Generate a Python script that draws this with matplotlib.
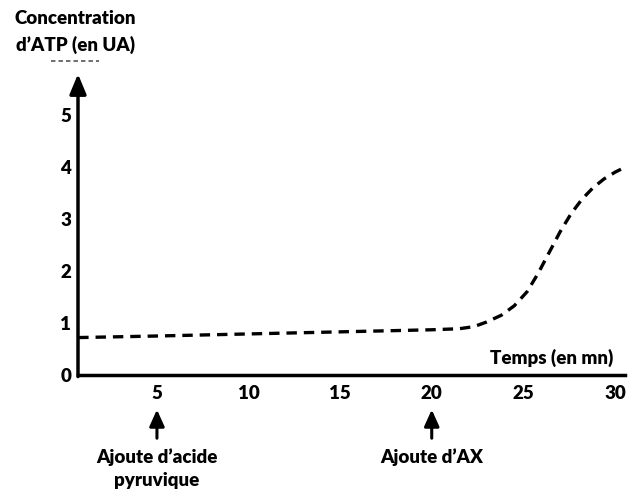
import matplotlib
matplotlib.use("Agg")
import matplotlib.pyplot as plt
from matplotlib.lines import Line2D

plt.rcParams['font.family'] = ['Lato', 'DejaVu Sans']
plt.rcParams['lines.scale_dashes'] = False

# Data
time_mn = [0.7, 5, 10, 15, 20, 21.5, 22.3, 23.0, 23.8, 24.5, 25.2, 25.8, 26.4,
           27.0, 27.6, 28.2, 28.8, 29.4, 30.0, 30.4]
atp_ua = [0.72, 0.75, 0.79, 0.83, 0.87, 0.89, 0.93, 1.02, 1.15, 1.33, 1.6, 1.95,
          2.35, 2.75, 3.1, 3.38, 3.6, 3.77, 3.9, 3.97]
x_ticks = [5, 10, 15, 20, 25, 30]
y_ticks = [0, 1, 2, 3, 4, 5]

W, H = 636, 494
fig = plt.figure(figsize=(W / 100, H / 100), dpi=100)
left, right, top, bottom = 78, 625, 74, 375
ax = fig.add_axes([left / W, 1 - bottom / H, (right - left) / W, (bottom - top) / H])

ax.plot(time_mn, atp_ua, color='black', lw=2.4, dashes=(7.5, 5), solid_capstyle='butt',
        dash_capstyle='butt')

ax.set_xlim(0.69, 30.55)
ax.set_ylim(0, 5.79)

for s in ['top', 'right', 'left']:
    ax.spines[s].set_visible(False)
ax.spines['bottom'].set_linewidth(2.5)

# y axis with arrow
ax.annotate('', xy=(0, 1.0), xycoords='axes fraction', xytext=(0, -0.005),
            textcoords='axes fraction',
            arrowprops=dict(arrowstyle='-|>,head_length=1.2,head_width=0.5',
                            color='black', lw=2.5, shrinkA=0, shrinkB=0),
            annotation_clip=False)

bold = dict(fontweight='heavy', fontsize=13.5)
ax.set_xticks(x_ticks)
ax.set_xticklabels([str(v) for v in x_ticks], **bold)
ax.set_yticks(y_ticks)
ax.set_yticklabels([str(v) for v in y_ticks], **bold)
ax.tick_params(axis='both', length=0)
ax.tick_params(axis='x', pad=7)
ax.tick_params(axis='y', pad=5)

ax.text(1.0 - 12 / (right - left), 0.025, 'Temps (en mn)', transform=ax.transAxes,
        ha='right', va='bottom', **bold)

fig.text(75 / W, 1 - 18 / H, 'Concentration', ha='center', va='center', **bold)
fig.text(75 / W, 1 - 45 / H, 'd\u2019ATP (en UA)', ha='center', va='center', **bold)
fig.add_artist(Line2D([51 / W, 99 / W], [1 - 61 / H, 1 - 61 / H], color='#555555',
                      lw=1.2, dashes=(3.2, 2.2)))

# Event arrows below axis
events = [(5, 'Ajoute d\u2019acide\npyruvique'), (20, 'Ajoute d\u2019AX')]
trans = ax.get_xaxis_transform()
for xv, lab in events:
    ax.annotate('', xy=(xv, -0.115), xycoords=trans, xytext=(xv, -0.21),
                textcoords=trans,
                arrowprops=dict(arrowstyle='-|>,head_length=1.0,head_width=0.45',
                                color='black', lw=2.2, shrinkA=0, shrinkB=0),
                annotation_clip=False)
    ax.text(xv, -0.245, lab, transform=trans, ha='center', va='top',
            linespacing=1.4, **bold)

fig.savefig('out.png', dpi=100)
